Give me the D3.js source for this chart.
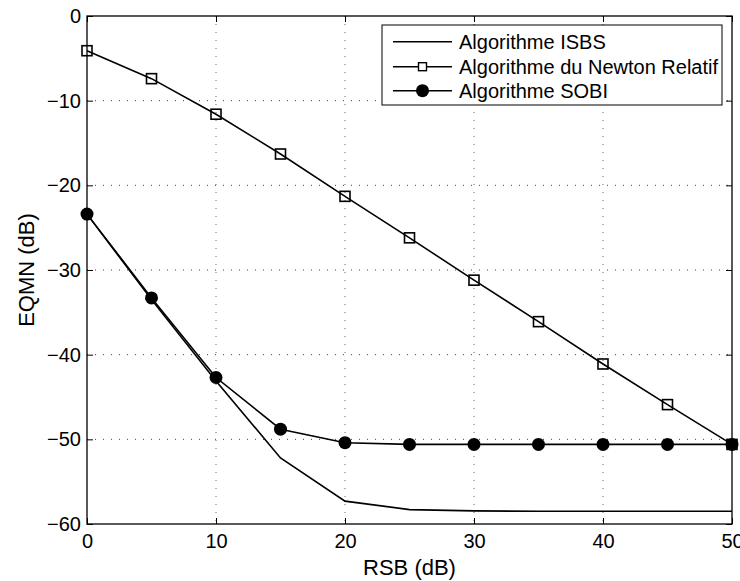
<!DOCTYPE html>
<html>
<head>
<meta charset="utf-8">
<script src="https://cdn.jsdelivr.net/npm/d3@7"></script>
<style>
  html, body { margin: 0; padding: 0; background: #fff; }
  svg { display: block; font-family: "Liberation Sans", Arial, sans-serif; }
</style>
</head>
<body>
<svg id="chart" width="740" height="581"></svg>
<script>
// ---- data ----
const rsb = [0, 5, 10, 15, 20, 25, 30, 35, 40, 45, 50];
const isbs = [-23.4, -33.5, -43.1, -52.2, -57.3, -58.3, -58.45, -58.5, -58.5, -58.5, -58.5];
const newton = [-4.1, -7.4, -11.6, -16.3, -21.3, -26.2, -31.2, -36.1, -41.1, -45.9, -50.6];
const sobi = [-23.4, -33.3, -42.7, -48.8, -50.4, -50.6, -50.6, -50.6, -50.6, -50.6, -50.6];
const xTicks = [0, 10, 20, 30, 40, 50];
const yTicks = [0, -10, -20, -30, -40, -50, -60];
const seriesNames = ["Algorithme ISBS", "Algorithme du Newton Relatif", "Algorithme SOBI"];
const xLabel = "RSB (dB)";
const yLabel = "EQMN (dB)";

// ---- layout ----
const W = 740, H = 581;
const m = { left: 87, right: 8, top: 16, bottom: 57 };
const pw = W - m.left - m.right, ph = H - m.top - m.bottom;

const svg = d3.select("#chart");
const g = svg.append("g").attr("transform", `translate(${m.left},${m.top})`);

const x = d3.scaleLinear().domain([0, 50]).range([0, pw]);
const y = d3.scaleLinear().domain([-60, 0]).range([ph, 0]);

// grid
const grid = g.append("g");
grid.selectAll("line.gx").data(xTicks.filter(v => v > 0 && v < 50)).join("line")
  .attr("x1", d => x(d)).attr("x2", d => x(d)).attr("y1", 0).attr("y2", ph)
  .attr("stroke", "#666").attr("stroke-width", 1).attr("stroke-dasharray", "1,7");
grid.selectAll("line.gy").data(yTicks.filter(v => v > -60 && v < 0)).join("line")
  .attr("y1", d => y(d)).attr("y2", d => y(d)).attr("x1", 0).attr("x2", pw)
  .attr("stroke", "#444").attr("stroke-width", 1).attr("stroke-dasharray", "1,7");

// axes (inward ticks)
const tickLen = 6;
const xb = g.append("g").attr("transform", `translate(0,${ph})`)
  .call(d3.axisBottom(x).tickValues(xTicks).tickSizeInner(-tickLen).tickSizeOuter(0).tickPadding(10).tickFormat(d3.format("d")));
const xt = g.append("g")
  .call(d3.axisTop(x).tickValues(xTicks).tickSizeInner(-tickLen).tickSizeOuter(0).tickFormat(""));
const yl = g.append("g")
  .call(d3.axisLeft(y).tickValues(yTicks).tickSizeInner(-tickLen).tickSizeOuter(0).tickPadding(6)
    .tickFormat(d => d < 0 ? "\u2212" + Math.abs(d) : d));
const yr = g.append("g").attr("transform", `translate(${pw},0)`)
  .call(d3.axisRight(y).tickValues(yTicks).tickSizeInner(-tickLen).tickSizeOuter(0).tickFormat(""));
[xb, xt, yl, yr].forEach(a => {
  a.select(".domain").remove();
  a.selectAll("line").attr("stroke", "#000").attr("stroke-width", 1);
  a.selectAll("text").attr("fill", "#000").style("font-size", "20px")
    .style("font-family", "'Liberation Sans', Arial, sans-serif");
});
xb.selectAll("text").attr("dy", "0.71em");

// frame
g.append("rect").attr("x", 0).attr("y", 0).attr("width", pw).attr("height", ph)
  .attr("fill", "none").attr("stroke", "#000").attr("stroke-width", 1.3);

// lines
const line = d3.line().x((d, i) => x(rsb[i])).y(d => y(d));
const lw = 1.6;
g.append("path").datum(isbs).attr("d", line).attr("fill", "none").attr("stroke", "#000").attr("stroke-width", lw);
g.append("path").datum(newton).attr("d", line).attr("fill", "none").attr("stroke", "#000").attr("stroke-width", lw);
g.selectAll("rect.sq").data(newton).join("rect").attr("class", "sq")
  .attr("x", (d, i) => x(rsb[i]) - 5).attr("y", d => y(d) - 5)
  .attr("width", 10).attr("height", 10)
  .attr("fill", "none").attr("stroke", "#000").attr("stroke-width", 1.6);
g.append("path").datum(sobi).attr("d", line).attr("fill", "none").attr("stroke", "#000").attr("stroke-width", lw);
g.selectAll("circle.ci").data(sobi).join("circle").attr("class", "ci")
  .attr("cx", (d, i) => x(rsb[i])).attr("cy", d => y(d)).attr("r", 6.5).attr("fill", "#000");

// axis labels
svg.append("text").attr("x", m.left + pw / 2).attr("y", 575).attr("text-anchor", "middle")
  .style("font-size", "22px").attr("fill", "#000").text(xLabel);
svg.append("text").attr("transform", `translate(34,${m.top + ph / 2}) rotate(-90)`).attr("text-anchor", "middle")
  .style("font-size", "22px").attr("fill", "#000").text(yLabel);

// legend
const lg = svg.append("g");
lg.append("rect").attr("x", 382).attr("y", 25).attr("width", 340).attr("height", 80)
  .attr("fill", "#fff").attr("stroke", "#000").attr("stroke-width", 1);
const rows = [41.7, 66.7, 90.7];
seriesNames.forEach((name, i) => {
  const yy = rows[i];
  lg.append("line").attr("x1", 393).attr("x2", 452).attr("y1", yy).attr("y2", yy)
    .attr("stroke", "#000").attr("stroke-width", lw);
  if (i === 1) {
    lg.append("rect").attr("x", 418.5).attr("y", yy - 4).attr("width", 8).attr("height", 8)
      .attr("fill", "#fff").attr("stroke", "#000").attr("stroke-width", 1.4);
  }
  if (i === 2) {
    lg.append("circle").attr("cx", 422.5).attr("cy", yy).attr("r", 6.5).attr("fill", "#000");
  }
  lg.append("text").attr("x", 459).attr("y", yy).attr("dy", "0.35em")
    .style("font-size", "20px").attr("fill", "#000").text(name);
});
</script>
</body>
</html>
